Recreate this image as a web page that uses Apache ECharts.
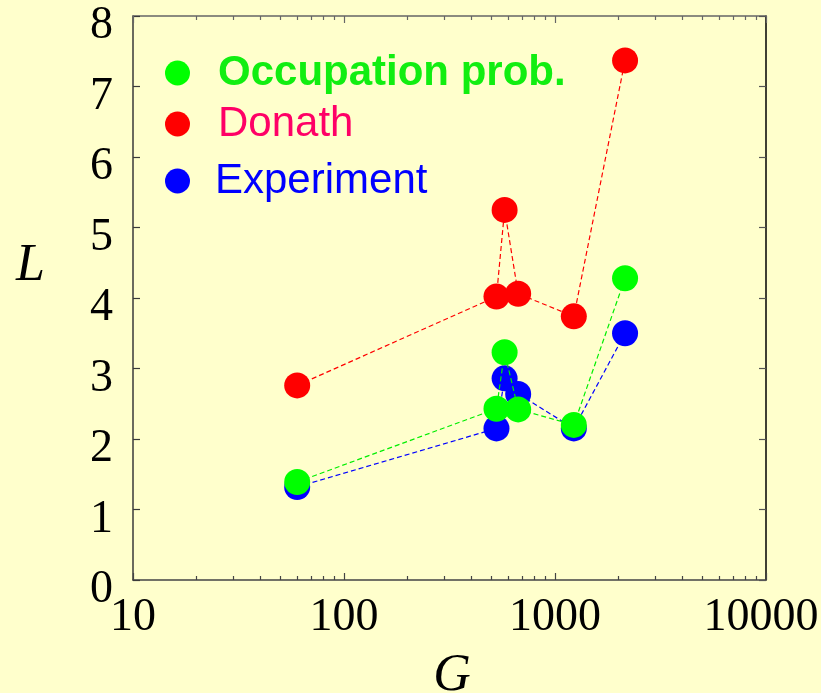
<!DOCTYPE html>
<html><head><meta charset="utf-8">
<script src="https://cdn.jsdelivr.net/npm/echarts@6/dist/echarts.min.js"></script>
<style>html,body{margin:0;padding:0;background:#ffffcc}#c{width:821px;height:693px}</style>
</head><body><div id="c"></div>
<script>
// ---- data ----
const G_values   = [60, 528, 577, 669, 1228, 2148];
const occupation = [1.39, 2.43, 3.23, 2.42, 2.20, 4.28];
const donath     = [2.76, 4.02, 5.25, 4.06, 3.74, 7.37];
const experiment = [1.32, 2.15, 2.86, 2.64, 2.15, 3.50];
const seriesNames = ['Occupation prob.', 'Donath', 'Experiment'];
const xMajorTicks = [10, 100, 1000, 10000];
const xMinorTicks = [20,30,40,50,60,70,80,90,200,300,400,500,600,700,800,900,2000,3000,4000,5000,6000,7000,8000,9000];
const yTickLabels = ['0','1','2','3','4','5','6','7','8'];

const pairs = v => G_values.map((g, i) => [g, v[i]]);
const serif = 'Liberation Serif';
const sans = 'Liberation Sans';

function xAxis(pos, minor, withLabel, color) {
  return {
    type: 'log', logBase: 10, min: 10, max: 10000, position: pos, gridIndex: 0,
    axisLine: { show: !minor, onZero: false, lineStyle: { color: color, width: 1.5 } },
    axisTick: { show: true, inside: true, length: minor ? 4 : 7, customValues: minor ? xMinorTicks : xMajorTicks,
                lineStyle: { color: color, width: 1.2 } },
    minorTick: { show: false },
    splitLine: { show: false },
    axisLabel: withLabel ? {
      show: true, customValues: xMajorTicks, margin: 15,
      fontFamily: serif, fontSize: 46, color: '#000',
      formatter: v => v === 10000 ? '{r|10000}' : String(v),
      rich: { r: { fontFamily: serif, fontSize: 46, color: '#000', padding: [0, 10, 0, 0] } }
    } : { show: false },
    name: withLabel ? 'G' : '', nameLocation: 'middle', nameGap: 70,
    nameTextStyle: { fontFamily: serif, fontStyle: 'italic', fontSize: 52, color: '#000', padding: [0, 0, 0, 5] }
  };
}

const legendBase = { left: 165, padding: 0, itemWidth: 25, itemHeight: 25 };

const chart = echarts.init(document.getElementById('c'));
chart.setOption({
  backgroundColor: '#ffffcc',
  animation: false,
  grid: { left: 133, right: 55, top: 16, bottom: 113, containLabel: false, outerBoundsMode: 'none' },
  xAxis: [
    xAxis('bottom', false, true, '#444'),
    xAxis('bottom', true, false, '#444'),
    xAxis('top', false, false, '#666'),
    xAxis('top', true, false, '#666')
  ],
  yAxis: [
    {
      type: 'value', min: 0, max: 8, interval: 1, position: 'left',
      axisLine: { show: true, onZero: false, lineStyle: { color: '#3a3a3a', width: 1.5 } },
      axisTick: { inside: true, length: 7, lineStyle: { color: '#3a3a3a', width: 1.2 } },
      splitLine: { show: false },
      axisLabel: { margin: 20, fontFamily: serif, fontSize: 46, color: '#000',
                   verticalAlign: 'top', lineHeight: 20,
                   formatter: v => yTickLabels[Math.round(v)] },
      name: 'L', nameLocation: 'middle', nameRotate: 0, nameGap: 88,
      nameTextStyle: { fontFamily: serif, fontStyle: 'italic', fontSize: 52, color: '#000',
                       verticalAlign: 'bottom', lineHeight: 64 }
    },
    {
      type: 'value', min: 0, max: 8, interval: 1, position: 'right',
      axisLine: { show: true, onZero: false, lineStyle: { color: '#000', width: 1.5 } },
      axisTick: { inside: true, length: 7, lineStyle: { color: '#555', width: 1.2 } },
      splitLine: { show: false },
      axisLabel: { show: false }
    }
  ],
  legend: [
    Object.assign({ data: [{ name: seriesNames[0], icon: 'circle' }], top: 52,
      textStyle: { color: '#11ee11', fontFamily: sans, fontSize: 42, fontWeight: 'bold', padding: [0, 0, 0, 23] } }, legendBase),
    Object.assign({ data: [{ name: seriesNames[1], icon: 'circle' }], top: 103,
      textStyle: { color: '#ff0066', fontFamily: sans, fontSize: 42, padding: [0, 0, 0, 23] } }, legendBase),
    Object.assign({ data: [{ name: seriesNames[2], icon: 'circle' }], top: 160,
      textStyle: { color: '#0000ff', fontFamily: sans, fontSize: 42, padding: [0, 0, 0, 20] } }, legendBase)
  ],
  series: [
    { name: seriesNames[2], type: 'line', data: pairs(experiment), symbol: 'circle', symbolSize: 26,
      itemStyle: { color: '#0000ff' }, lineStyle: { color: '#0000ff', width: 1.2, type: [5, 3] }, z: 2 },
    { name: seriesNames[0], type: 'line', data: pairs(occupation), symbol: 'circle', symbolSize: 26,
      itemStyle: { color: '#00ff00' }, lineStyle: { color: '#00ee00', width: 1.2, type: [5, 3] }, z: 3 },
    { name: seriesNames[1], type: 'line', data: pairs(donath), symbol: 'circle', symbolSize: 26,
      itemStyle: { color: '#ff0000' }, lineStyle: { color: '#ff0000', width: 1.2, type: [5, 3] }, z: 4 }
  ]
});
</script>
</body></html>
